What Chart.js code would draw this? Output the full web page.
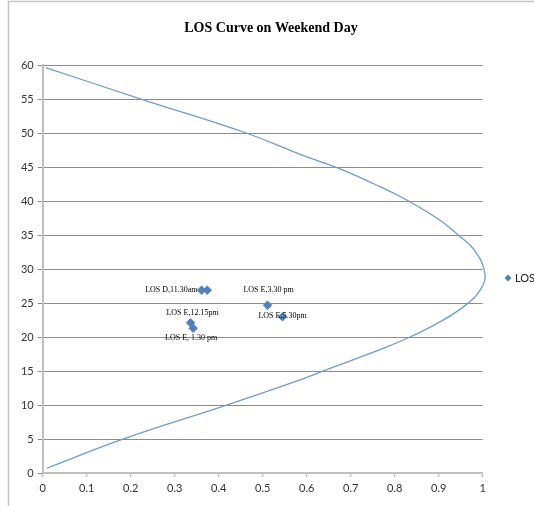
<!DOCTYPE html>
<html>
<head>
<meta charset="utf-8">
<script src="https://cdn.jsdelivr.net/npm/chart.js@4/dist/chart.umd.min.js"></script>
<style>
  html, body { margin: 0; padding: 0; background: #fff; }
  #wrap { width: 534px; height: 506px; }
</style>
</head>
<body>
<div id="wrap"><canvas id="losChart" width="534" height="506"></canvas></div>
<script>
// LOS curve (x = v/c ratio, y = speed)
const curveX = [0.009, 0.187, 0.418, 0.585, 0.653, 0.744, 0.831, 0.91, 0.967, 0.994, 1.005, 0.981, 0.945, 0.903, 0.8325, 0.751, 0.666, 0.585, 0.464, 0.225, 0.007];
const curveY = [0.7, 5.1, 10.0, 13.7, 15.4, 17.6, 19.9, 22.5, 25.0, 26.9, 29.3, 32.8, 35.0, 37.2, 40.0, 42.6, 45.0, 46.9, 50.0, 55.0, 59.66];

// observed points
const losX = [0.361, 0.374, 0.336, 0.342, 0.511, 0.545];
const losY = [26.9, 26.9, 22.1, 21.3, 24.7, 23.0];
const losLabels = ["LOS D,11.30am", "", "LOS E,12.15pm", "LOS E, 1.30 pm", "LOS E,3.30 pm", "LOS E,5.30pm"];

const xTicks = [0, 0.1, 0.2, 0.3, 0.4, 0.5, 0.6, 0.7, 0.8, 0.9, 1];
const yTicks = [0, 5, 10, 15, 20, 25, 30, 35, 40, 45, 50, 55, 60];

const title = "LOS Curve on Weekend Day";
const seriesName = "LOS";

// label placement: [dx, dy, align]
const labelPlace = [[-4, 0, "right"], null, [2, -10, "center"], [-2, 10, "center"], [1, -15, "center"], [0, -1, "center"]];

const blue = "#4F81BD";
const tickFont = { family: "Lato", size: 11 };

const frame = {
    id: "frame",
    beforeDraw(chart) {
        const c = chart.ctx;
        c.save();
        c.fillStyle = "#fff";
        c.fillRect(0, 0, chart.width, chart.height);
        c.strokeStyle = "#c4c4c4";
        c.lineWidth = 1.5;
        c.strokeRect(8.5, 1.5, 700, 700);
        c.restore();
    },
    afterDatasetsDraw(chart) {
        const c = chart.ctx;
        const meta = chart.getDatasetMeta(1);
        c.save();
        c.fillStyle = "#000";
        c.font = "8px 'Liberation Serif'";
        c.textBaseline = "middle";
        meta.data.forEach((pt, i) => {
            const txt = losLabels[i];
            const pl = labelPlace[i];
            if (!txt || !pl) return;
            c.textAlign = pl[2];
            c.fillText(txt, pt.x + pl[0], pt.y + pl[1]);
        });
        c.restore();
    },
    afterDraw(chart) {
        const c = chart.ctx;
        c.save();
        // title
        c.fillStyle = "#000";
        c.font = "bold 14px 'Liberation Serif'";
        c.textAlign = "center";
        c.textBaseline = "middle";
        c.fillText(title, 271, 28);
        // legend
        c.fillStyle = blue;
        c.beginPath();
        c.moveTo(508, 274.5);
        c.lineTo(511.5, 278);
        c.lineTo(508, 281.5);
        c.lineTo(504.5, 278);
        c.closePath();
        c.fill();
        c.fillStyle = "#222";
        c.font = "11px Lato";
        c.textAlign = "left";
        c.fillText(seriesName, 515, 278.5);
        c.restore();
    }
};

new Chart(document.getElementById("losChart"), {
    type: "scatter",
    data: {
        datasets: [{
            label: "curve",
            data: curveX.map((x, i) => ({ x: x, y: curveY[i] })),
            showLine: true,
            tension: 0.45,
            borderColor: "#6f9bd1",
            borderWidth: 1.3,
            pointRadius: 0,
            clip: false
        }, {
            label: seriesName,
            data: losX.map((x, i) => ({ x: x, y: losY[i] })),
            pointStyle: "rectRot",
            pointRadius: 4.5,
            backgroundColor: blue,
            borderColor: blue,
            borderWidth: 0.5
        }]
    },
    options: {
        responsive: false,
        animation: false,
        devicePixelRatio: 1,
        layout: { padding: { top: 65.3, right: 51.3, left: 0, bottom: 0 } },
        plugins: {
            legend: { display: false },
            title: { display: false },
            tooltip: { enabled: false }
        },
        scales: {
            x: {
                type: "linear",
                min: 0,
                max: 1,
                afterFit(s) { s.height = 33; },
                afterBuildTicks(s) { s.ticks = xTicks.map(v => ({ value: v })); },
                ticks: {
                    font: tickFont,
                    color: "#333",
                    padding: 5,
                    maxRotation: 0,
                    callback: v => String(Math.round(v * 10) / 10)
                },
                grid: { drawOnChartArea: false, drawTicks: true, tickLength: 4, tickColor: "#bfbfbf", tickWidth: 1.5 },
                border: { color: "#bfbfbf", width: 2 }
            },
            y: {
                min: 0,
                max: 60,
                afterFit(s) { s.width = 42.7; },
                afterBuildTicks(s) { s.ticks = yTicks.map(v => ({ value: v })); },
                ticks: { font: tickFont, color: "#333", padding: 4 },
                grid: { color: "#8c8c8c", lineWidth: 1, drawTicks: true, tickLength: 5, tickColor: "#8c8c8c" },
                border: { color: "#bfbfbf", width: 2 }
            }
        }
    },
    plugins: [frame]
});
</script>
</body>
</html>
